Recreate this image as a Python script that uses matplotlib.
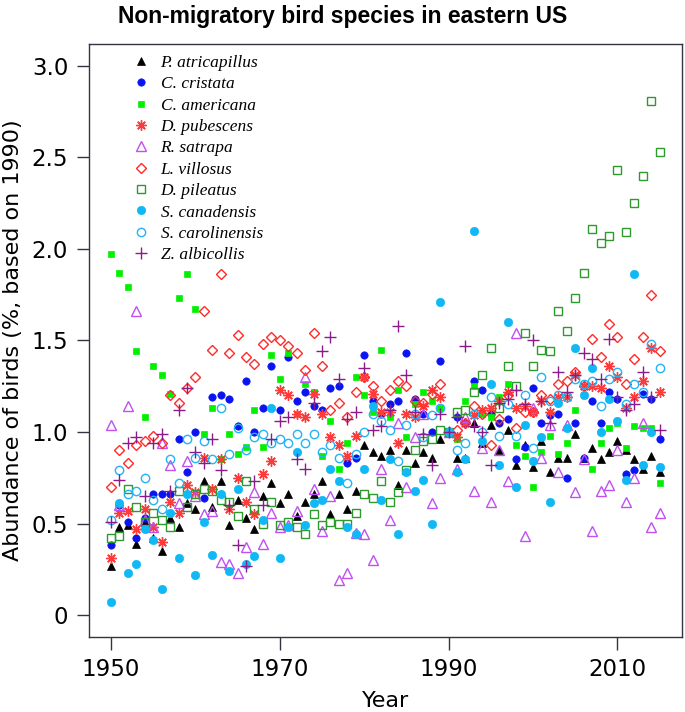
import numpy as np
import matplotlib
matplotlib.use("Agg")
import matplotlib.pyplot as plt

years = np.arange(1950, 2016)

# abundance relative to 1990
atricapillus = [0.27, 0.48, 0.49, 0.39, 0.51, 0.42, 0.35, 0.53, 0.48, 0.61,
                0.58, 0.73, 0.59, 0.73, 0.49, 0.63, 0.53, 0.47, 0.65, 0.72,
                0.61, 0.66, 0.54, 0.62, 0.66, 0.73, 0.55, 0.66, 0.58, 0.68,
                0.93, 0.89, 0.87, 0.90, 0.71, 0.90, 0.83, 0.89, 0.86, 0.96,
                1.00, 0.86, 0.86, 1.05, 0.94, 1.04, 0.90, 1.01, 0.82, 0.93,
                0.81, 0.95, 0.78, 0.86, 0.86, 0.99, 0.86, 0.91, 0.85, 0.89,
                0.95, 0.90, 0.85, 0.80, 0.87, 0.78]
cristata = [0.38, 0.60, 0.51, 0.42, 0.53, 0.66, 0.66, 0.66, 0.96, 0.78,
            1.00, 0.64, 1.19, 1.20, 1.18, 1.03, 1.28, 1.00, 1.13, 1.36,
            1.12, 1.41, 1.17, 1.22, 1.14, 1.12, 1.24, 1.25, 0.83, 0.86,
            1.42, 1.17, 1.10, 1.15, 1.17, 1.43, 1.18, 1.10, 1.00, 1.39,
            1.00, 1.08, 1.05, 1.28, 1.23, 1.10, 1.05, 1.07, 0.85, 0.92,
            1.24, 1.05, 1.09, 1.10, 0.75, 1.05, 0.86, 1.17, 1.05, 1.22,
            1.18, 0.77, 0.79, 1.21, 1.18, 0.96]
americana = [1.97, 1.87, 1.79, 1.44, 1.08, 1.36, 1.31, 1.21, 1.73, 1.86,
             1.67, 0.99, 1.13, 0.85, 0.99, 0.88, 0.92, 1.12, 0.92, 1.42,
             1.29, 1.43, 1.10, 1.26, 1.22, 0.87, 1.06, 0.80, 0.94, 1.30,
             1.20, 1.11, 1.45, 1.08, 1.23, 0.97, 1.15, 1.22, 1.17, 1.13,
             1.00, 0.96, 1.17, 1.25, 1.10, 1.08, 1.19, 1.26, 0.93, 0.87,
             0.70, 0.89, 0.98, 0.88, 0.94, 1.12, 1.20, 0.80, 0.94, 1.02,
             1.05, 0.91, 1.03, 1.02, 1.02, 0.72]
pubescens = [0.31, 0.56, 0.57, 0.47, 0.58, 0.48, 0.40, 0.62, 0.56, 0.71,
             0.67, 0.86, 0.69, 0.85, 0.58, 0.75, 0.62, 0.55, 0.77, 0.84,
             1.23, 1.20, 1.10, 1.08, 1.21, 1.10, 0.97, 0.93, 0.87, 0.98,
             1.30, 1.21, 1.11, 1.11, 0.94, 1.10, 1.08, 1.14, 1.23, 1.19,
             1.00, 0.97, 1.05, 1.09, 1.12, 1.13, 1.17, 1.22, 1.13, 1.14,
             1.11, 1.17, 1.11, 1.19, 1.19, 1.31, 1.25, 1.25, 1.24, 1.36,
             1.30, 1.13, 1.19, 1.28, 1.46, 1.22]
satrapa = [1.04, 0.60, 1.14, 1.66, 0.52, 0.48, 0.94, 0.82, 0.61, 0.84,
           0.65, 0.55, 0.57, 0.29, 0.28, 0.23, 0.37, 0.67, 0.39, 0.56,
           0.48, 0.49, 0.57, 1.30, 0.69, 0.46, 0.65, 0.19, 0.23, 0.45,
           0.44, 0.30, 0.80, 0.52, 1.05, 0.70, 0.97, 1.10, 0.61, 0.75,
           1.00, 0.80, 1.08, 0.68, 0.91, 0.62, 0.90, 0.73, 1.54, 0.43,
           1.13, 0.86, 1.04, 0.78, 1.04, 0.67, 0.85, 0.46, 0.68, 0.71,
           0.90, 0.62, 0.75, 1.05, 0.48, 0.56]
villosus = [0.70, 0.90, 0.83, 0.93, 0.95, 0.98, 0.94, 1.20, 1.16, 1.24,
            1.30, 1.66, 1.45, 1.86, 1.43, 1.53, 1.41, 1.37, 1.48, 1.52,
            1.50, 1.47, 1.43, 1.34, 1.54, 1.36, 1.12, 1.16, 1.08, 1.22,
            1.30, 1.25, 1.17, 1.23, 1.28, 1.25, 1.17, 1.16, 1.21, 1.26,
            1.00, 1.01, 1.05, 1.14, 1.10, 0.93, 1.07, 1.20, 1.02, 1.11,
            1.11, 1.20, 1.18, 1.26, 1.28, 1.33, 1.25, 1.51, 1.41, 1.59,
            1.52, 1.26, 1.40, 1.52, 1.75, 1.44]
pileatus = [0.42, 0.43, 0.69, 0.59, 0.51, 0.56, 0.52, 0.48, 0.68, 0.59,
            0.66, 0.69, 0.68, 0.63, 0.62, 0.54, 0.73, 0.58, 0.50, 0.62,
            0.49, 0.51, 0.48, 0.44, 0.55, 0.49, 0.51, 0.50, 0.50, 0.56,
            0.66, 0.64, 0.73, 0.62, 0.67, 0.79, 0.90, 0.95, 0.96, 1.01,
            1.00, 1.11, 1.12, 1.22, 1.31, 1.46, 1.13, 1.36, 1.25, 1.54,
            1.36, 1.45, 1.44, 1.66, 1.55, 1.73, 1.87, 2.11, 2.03, 2.07,
            2.43, 2.09, 2.25, 2.40, 2.81, 2.53]
canadensis = [0.07, 0.61, 0.23, 0.28, 0.47, 0.41, 0.14, 0.56, 0.31, 0.66,
              0.22, 0.51, 0.33, 0.66, 0.24, 0.69, 0.28, 0.32, 0.52, 1.13,
              0.31, 0.48, 0.89, 0.49, 0.61, 0.63, 0.80, 0.73, 0.48, 0.44,
              0.80, 1.14, 0.63, 0.85, 0.44, 0.78, 0.68, 0.74, 0.50, 1.71,
              1.00, 0.78, 0.85, 2.10, 0.95, 1.26, 0.82, 1.60, 0.70, 1.04,
              0.84, 0.97, 0.62, 1.16, 1.02, 1.46, 1.20, 1.35, 1.00, 1.18,
              1.06, 0.74, 1.86, 0.82, 1.00, 0.81]
carolinensis = [0.52, 0.79, 0.66, 0.68, 0.75, 0.63, 0.58, 0.85, 0.72, 0.96,
                0.86, 0.95, 0.85, 1.13, 0.88, 1.02, 0.90, 0.97, 0.99, 0.94,
                0.96, 0.94, 0.99, 0.94, 0.99, 0.89, 0.93, 0.86, 0.72, 0.88,
                1.00, 1.10, 1.06, 1.01, 0.84, 1.04, 1.10, 0.97, 1.09, 1.13,
                1.00, 0.90, 0.94, 1.10, 1.00, 1.19, 0.98, 1.15, 0.98, 1.20,
                0.91, 1.30, 1.17, 1.20, 1.19, 1.29, 1.26, 1.28, 1.14, 1.29,
                1.33, 1.15, 1.26, 1.22, 1.48, 1.35]
albicollis = [0.51, 0.74, 0.94, 0.97, 0.65, 0.94, 0.99, 0.68, 1.12, 1.24,
              0.89, 0.83, 0.96, 0.79, 0.60, 0.38, 0.27, 0.73, 0.60, 0.96,
              1.06, 1.08, 0.85, 0.80, 1.16, 1.44, 1.52, 1.29, 1.07, 1.11,
              1.35, 1.01, 1.03, 1.12, 1.58, 1.31, 1.11, 0.99, 0.82, 1.10,
              1.00, 1.08, 1.47, 1.03, 1.00, 0.82, 1.16, 1.18, 1.23, 1.15,
              1.50, 1.17, 1.05, 1.33, 1.22, 1.31, 1.43, 1.40, 1.29, 1.51,
              1.19, 1.12, 1.15, 1.33, 1.19, 1.01]

species = ["P. atricapillus", "C. cristata", "C. americana", "D. pubescens",
           "R. satrapa", "L. villosus", "D. pileatus", "S. canadensis",
           "S. carolinensis", "Z. albicollis"]
series = [atricapillus, cristata, americana, pubescens, satrapa,
          villosus, pileatus, canadensis, carolinensis, albicollis]

# marker, colour, filled, size
styles = [
    ("^", "black", True, 6.0),
    ("o", "#0a14f0", True, 5.3),
    ("s", "#00f000", True, 5.0),
    ((8, 2, 0), "#ff3a3a", False, 7.5),
    ("^", "#c050f0", False, 6.8),
    ("D", "#ff2a2a", False, 5.0),
    ("s", "#2e9a2e", False, 5.6),
    ("o", "#10b8f5", True, 6.0),
    ("o", "#22b4f5", False, 6.0),
    ("+", "#8b1a8b", False, 8.5),
]

fig = plt.figure(figsize=(6.85, 7.12), dpi=100)
ax = fig.add_axes([0.130, 0.1053, 0.865, 0.8332])

for name, vals, (m, c, filled, ms) in zip(species, series, styles):
    if filled:
        ax.plot(years, vals, linestyle="none", marker=m, color=c, ms=ms,
                mec=c, mew=0.5, label=name)
    else:
        ax.plot(years, vals, linestyle="none", marker=m, mfc="none", mec=c,
                mew=1.0, ms=ms, label=name)

ax.set_xlim(1947.4, 2017.6)
ax.set_ylim(-0.12, 3.12)
ax.set_xticks([1950, 1970, 1990, 2010])
ax.set_yticks([0, 0.5, 1.0, 1.5, 2.0, 2.5, 3.0])
ax.set_yticklabels(["0", "0.5", "1.0", "1.5", "2.0", "2.5", "3.0"])
ax.tick_params(labelsize=16.5, length=9, width=1, color="#333344", pad=6)
for sp in ax.spines.values():
    sp.set_color("#333344")
    sp.set_linewidth(1)

ax.set_xlabel("Year", fontsize=16, labelpad=7)
ax.set_ylabel("Abundance of birds (%, based on 1990)", fontsize=16, labelpad=6)
fig.suptitle("Non-migratory bird species in eastern US", fontsize=16.5,
             fontweight="bold", family="Liberation Sans", y=0.993)

ax.legend(loc="upper left", bbox_to_anchor=(0.062, 0.993), frameon=False,
          prop={"family": "Liberation Serif", "style": "italic", "size": 12.5},
          handlelength=1.0, handletextpad=0.6, labelspacing=0.3,
          borderaxespad=0.0)

fig.savefig("out.png", dpi=100)
